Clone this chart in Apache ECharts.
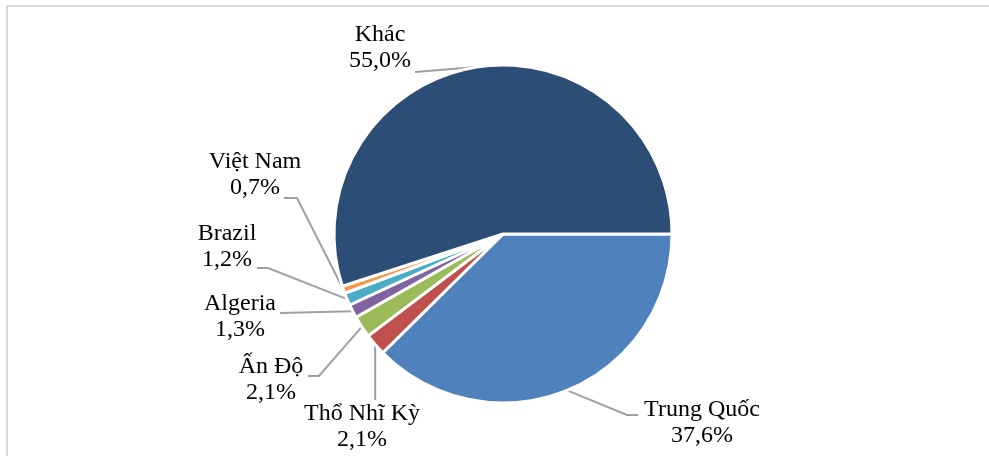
<!DOCTYPE html>
<html>
<head>
<meta charset="utf-8">
<script src="https://cdn.jsdelivr.net/npm/echarts@6/dist/echarts.min.js"></script>
<style>
  html, body { margin: 0; padding: 0; background: #ffffff; }
  #chart { width: 989px; height: 456px; }
</style>
</head>
<body>
<div id="chart"></div>
<script>
// ---- Data ----
const categories = ['Trung Quốc', 'Thổ Nhĩ Kỳ', 'Ấn Độ', 'Algeria', 'Brazil', 'Việt Nam', 'Khác'];
const shares = [37.6, 2.1, 2.1, 1.3, 1.2, 0.7, 55.0];

// ---- Styles / layout (not data) ----
const colors = ['#4F81BD', '#C0504D', '#9BBB59', '#8064A2', '#4BACC6', '#F79646', '#2C4D75'];
// label block centers and leader-line end offsets relative to those centers
const labelPlace = [
  { x: 702, y: 423, ex: -64, ey: -8, elbow: -11 },
  { x: 362, y: 427, vertical: true, ey: -27 },
  { x: 271, y: 380, ex: 37, ey: -4, elbow: 11 },
  { x: 240, y: 317, ex: 40, ey: -4, elbow: 0 },
  { x: 227, y: 247, ex: 30, ey: 21, elbow: 11 },
  { x: 255, y: 175, ex: 29, ey: 23, elbow: 13 },
  { x: 380, y: 48, ex: 35, ey: 24, elbow: 0 }
];

const chart = echarts.init(document.getElementById('chart'), null, { renderer: 'canvas' });

const seriesData = categories.map((name, i) => ({
  name: name,
  value: shares[i],
  itemStyle: { color: colors[i] }
}));

chart.setOption({
  animation: false,
  backgroundColor: '#ffffff',
  graphic: [{
    type: 'rect',
    shape: { x: 7, y: 6, width: 1000, height: 500 },
    style: { fill: 'none', stroke: '#d9d9d9', lineWidth: 2 },
    silent: true,
    z: -10
  }],
  series: [{
    type: 'pie',
    center: [503, 234],
    radius: [0, 169],
    startAngle: 0,
    clockwise: true,
    avoidLabelOverlap: false,
    itemStyle: { borderColor: '#ffffff', borderWidth: 3 },
    label: {
      show: true,
      position: 'outside',
      color: '#000000',
      fontFamily: '"Liberation Serif", "Times New Roman", serif',
      fontSize: 24,
      lineHeight: 26,
      align: 'center',
      formatter: p => p.name + '\n' + p.value.toFixed(1).replace('.', ',') + '%'
    },
    labelLine: {
      show: true,
      length: 10,
      length2: 10,
      lineStyle: { color: '#a0a0a0', width: 2 }
    },
    labelLayout: function (params) {
      const lp = labelPlace[params.dataIndex];
      let start = params.labelLinePoints ? params.labelLinePoints[0] : null;
      if (!start) {
        return { x: lp.x, y: lp.y, align: 'center', verticalAlign: 'middle' };
      }
      let end, elbow;
      if (lp.vertical) {
        end = [start[0], lp.y + lp.ey];
        elbow = [start[0], (start[1] + end[1]) / 2];
      } else {
        end = [lp.x + lp.ex, lp.y + lp.ey];
        elbow = [end[0] + lp.elbow, end[1]];
      }
      return {
        x: lp.x,
        y: lp.y,
        align: 'center',
        verticalAlign: 'middle',
        labelLinePoints: [start, elbow, end]
      };
    },
    data: seriesData
  }]
});
</script>
</body>
</html>
